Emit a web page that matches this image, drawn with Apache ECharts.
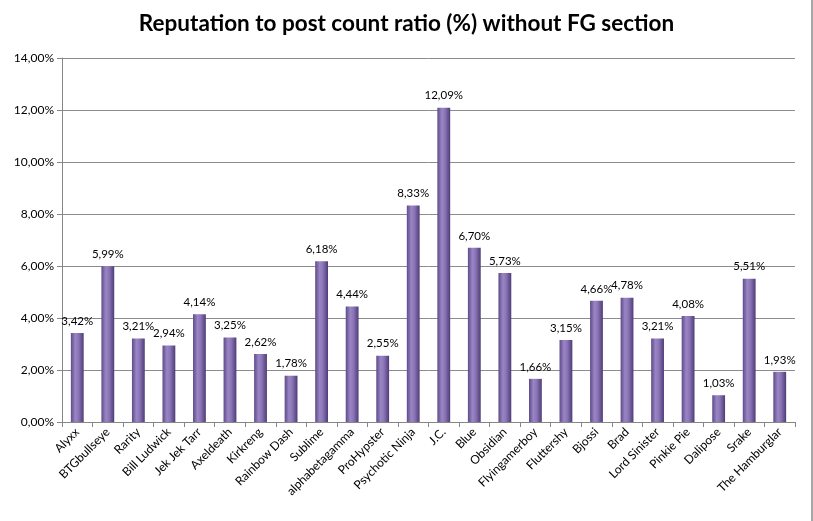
<!DOCTYPE html>
<html><head><meta charset="utf-8">
<script src="https://cdn.jsdelivr.net/npm/echarts@6/dist/echarts.min.js"></script>
<style>html,body{margin:0;padding:0;background:#fff}#c{width:813px;height:521px}</style>
</head><body><div id="c"></div>
<script>
const categories = ["Alyxx","BTGbullseye","Rarity","Bill Ludwick","Jek Jek Tarr","Axeldeath","Kirkreng","Rainbow Dash","Sublime","alphabetagamma","ProHypster","Psychotic Ninja","J.C.","Blue","Obsidian","Flyingamerboy","Fluttershy","Bjossi","Brad","Lord Sinister","Pinkie Pie","Dalipose","Srake","The Hamburglar"];
const ratioValues = [3.42,5.99,3.21,2.94,4.14,3.25,2.62,1.78,6.18,4.44,2.55,8.33,12.09,6.70,5.73,1.66,3.15,4.66,4.78,3.21,4.08,1.03,5.51,1.93];
const titleText = "Reputation to post count ratio (%) without FG section";

const fmt = v => v.toFixed(2).replace('.', ',') + '%';
const chart = echarts.init(document.getElementById('c'), null, {renderer:'canvas'});
chart.setOption({
  animation:false,
  backgroundColor:'#fff',
  title:{text:titleText,left:'center',top:7,
    textStyle:{fontFamily:'Lato',fontWeight:'bold',fontSize:22.5,color:'#000'}},
  grid:{left:62,right:18,top:58,bottom:99,containLabel:false},
  graphic:[{type:'line',shape:{x1:812,y1:0,x2:812,y2:521},style:{stroke:'#8a8a8a',lineWidth:1.5}}],
  xAxis:{type:'category',data:categories,
    axisLine:{lineStyle:{color:'#868686',width:1}},
    axisTick:{show:true,alignWithLabel:false,length:5,lineStyle:{color:'#868686'}},
    axisLabel:{rotate:45,interval:0,fontFamily:'Lato',fontSize:12,color:'#000',margin:8}},
  yAxis:{type:'value',min:0,max:14,interval:2,
    axisLine:{show:true,lineStyle:{color:'#868686',width:1}},
    axisTick:{show:true,length:5,lineStyle:{color:'#868686'}},
    splitLine:{lineStyle:{color:'#8c8c8c',width:1}},
    axisLabel:{formatter:v=>fmt(v),fontFamily:'Lato',fontSize:12,color:'#000',margin:8}},
  series:[{type:'bar',data:ratioValues,barWidth:'42%',
    itemStyle:{color:new echarts.graphic.LinearGradient(0,0,1,0,[
      {offset:0,color:'#5e4a88'},{offset:0.35,color:'#9a86c4'},{offset:0.6,color:'#8a74b6'},{offset:1,color:'#4e3c76'}])},
    label:{show:true,position:'top',distance:6,formatter:p=>fmt(p.value),
      fontFamily:'Lato',fontSize:11.5,color:'#000'}}]
});
</script></body></html>
